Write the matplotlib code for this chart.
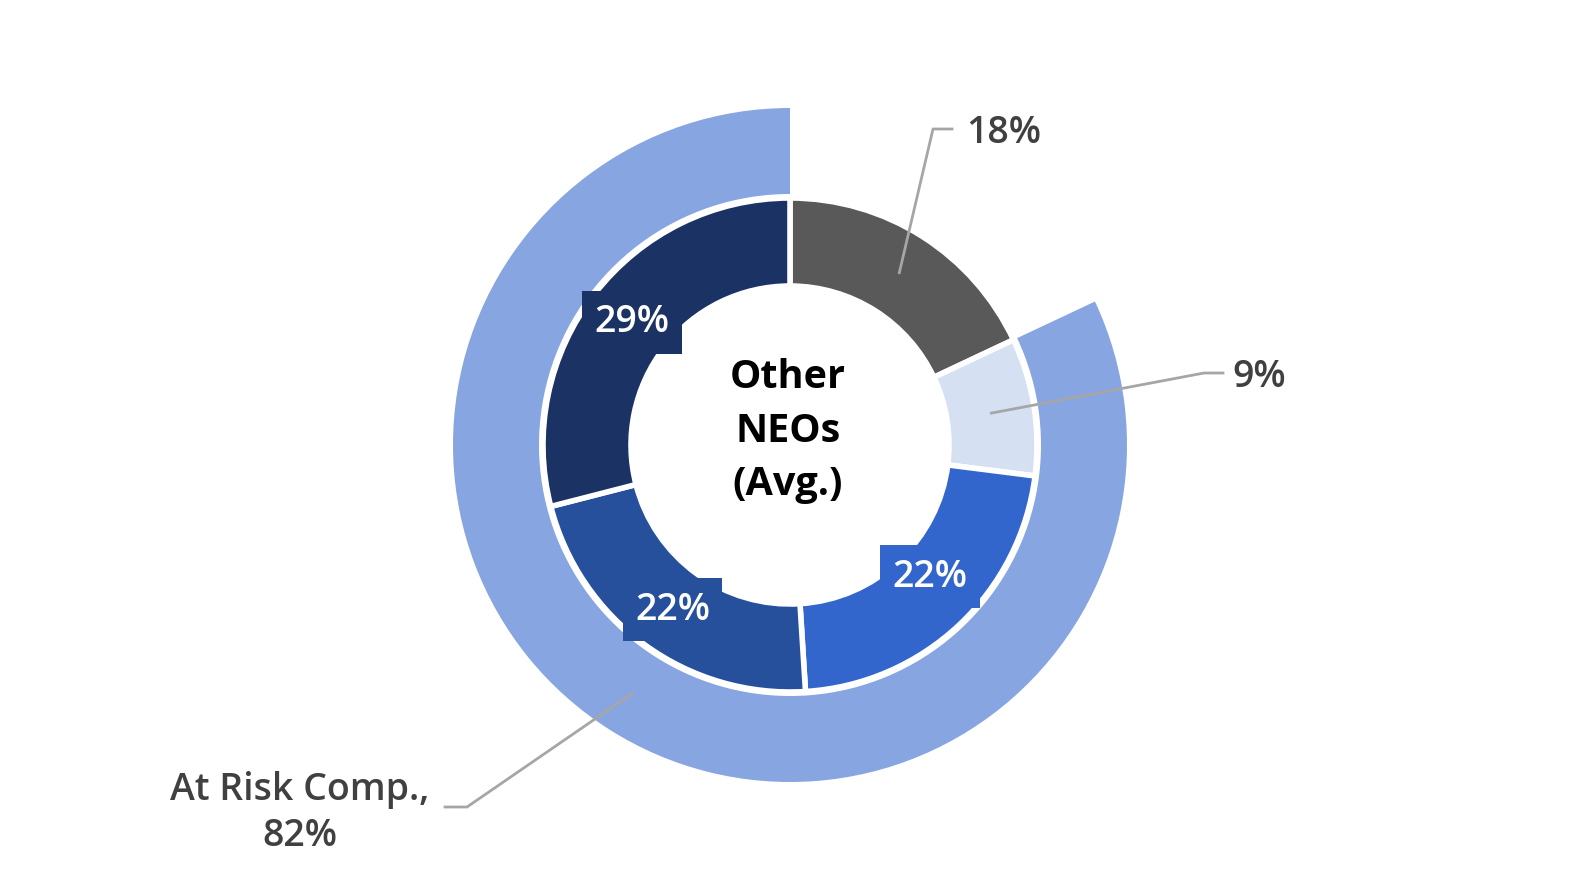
import numpy as np
import matplotlib
matplotlib.use("Agg")
import matplotlib.pyplot as plt

# ---- data ----
inner_labels = ["18%", "9%", "22%", "22%", "29%"]
inner_values = [18, 9, 22, 22, 29]
inner_colors = ["#595959", "#D6E0F3", "#3366CC", "#264F9C", "#1B3264"]
outer_values = [18, 82]
outer_label = "At Risk Comp.,\n82%"
center_text = "Other\nNEOs\n(Avg.)"

W, H = 1582, 893
CX, CY = 790, H - 445
R_HOLE, R_IN, R_RING_IN, R_RING_OUT = 159, 244, 251, 337
LINE_C = "#A6A6A6"
TEXT_C = "#404040"
LBL = dict(fontsize=27, fontweight="semibold")

plt.rcParams["font.family"] = ["Open Sans", "DejaVu Sans"]

fig = plt.figure(figsize=(W / 100, H / 100), dpi=100)
ax = fig.add_axes([0, 0, 1, 1])

# outer ring (first slice hidden)
ax.pie(outer_values, radius=R_RING_OUT, center=(CX, CY), startangle=90,
       counterclock=False, colors=["none", "#87A5E0"],
       wedgeprops=dict(width=R_RING_OUT - R_RING_IN, edgecolor="none"))

# inner donut
ax.pie(inner_values, radius=R_IN + 3, center=(CX, CY), startangle=90,
       counterclock=False, colors=inner_colors,
       wedgeprops=dict(width=R_IN + 3 - R_HOLE, edgecolor="white", linewidth=4))
ax.set_xlim(0, W)
ax.set_ylim(0, H)
ax.set_aspect("equal")
ax.axis("off")


def polar(frac, r):
    a = np.deg2rad(frac * 360)
    return CX + r * np.sin(a), CY + r * np.cos(a)


cum = np.cumsum([0] + inner_values) / 100.0
mids = (cum[:-1] + cum[1:]) / 2

# boxed labels on slices 3-5 (small nudges as in the original layout)
nudge = {2: (3, 14), 3: (0, -3), 4: (0, 0)}
for i in (2, 3, 4):
    x, y = polar(mids[i], 200)
    dx, dy = nudge[i]
    ax.text(x + dx, y + dy, inner_labels[i], ha="center", va="center",
            color="white", **LBL,
            bbox=dict(boxstyle="square,pad=0.33", facecolor=inner_colors[i],
                      edgecolor="none"))

# 18% leader
x0, y0 = polar(mids[0], 204)
ax.plot([x0, 933, 952], [y0, H - 129, H - 129], color=LINE_C, lw=2)
ax.text(966, H - 133, inner_labels[0], ha="left", va="center", color=TEXT_C, **LBL)

# 9% leader
x0, y0 = polar(mids[1], 204)
ax.plot([x0, 1204, 1223], [y0, H - 373, H - 373], color=LINE_C, lw=2)
ax.text(1232, H - 377, inner_labels[1], ha="left", va="center", color=TEXT_C, **LBL)

# outer label leader
om = (outer_values[0] + outer_values[1] / 2) / 100.0
x0, y0 = polar(om, 294)
ax.plot([x0, 467, 445], [y0, H - 807, H - 807], color=LINE_C, lw=2)
ax.text(300, H - 813, outer_label, ha="center", va="center", color=TEXT_C,
        linespacing=1.25, **LBL)

ax.text(CX - 2, CY + 14, center_text, ha="center", va="center", color="black",
        fontsize=28.5, fontweight="bold", linespacing=1.5)

fig.savefig("out.png", dpi=100)
